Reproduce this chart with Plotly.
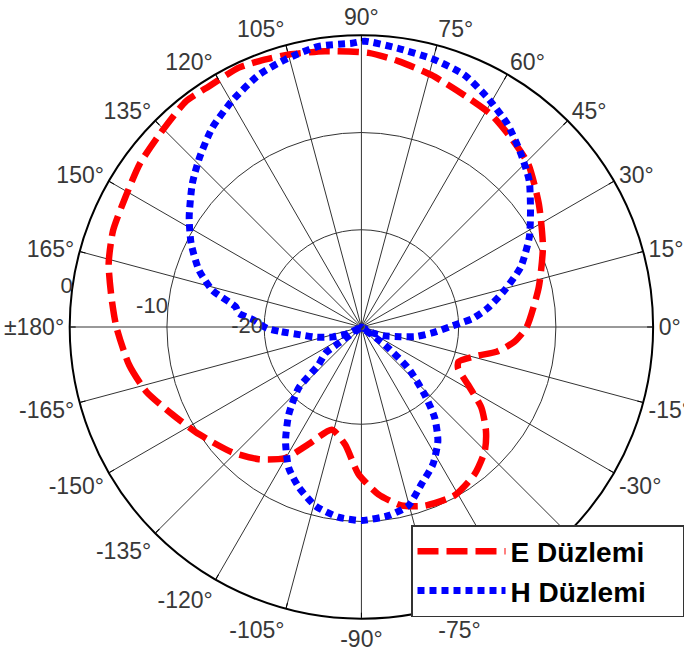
import plotly.graph_objects as go

# E-plane (Düzlemi) pattern, angle in degrees, gain in dB
e_theta = [-180, -170.7, -163.3, -155.1, -146.5, -135.8, -127.8, -120.2, -114.2, -106.1,
           -97.9, -91.2, -84.2, -77.4, -70.5, -61.1, -52.5, -45.2, -39.9, -34.0,
           -28.5, -23.1, -19.7, -14.6, -10.2, -5.5, 0, 12.7, 23.8, 34.7,
           44.4, 51.7, 58.6, 65.1, 74.5, 82.1, 88.5, 97.5, 104.9, 111.0,
           115.3, 122.3, 127.8, 136.3, 143.7, 151.3, 158.8, 165.9, 173.1, 180]
e_db = [-4.8, -5.8, -6.9, -8.6, -10.0, -11.5, -12.8, -14.4, -16.8, -19.0,
        -17.8, -14.9, -12.7, -11.2, -10.5, -10.2, -10.9, -12.0, -13.3, -15.1,
        -17.5, -19.2, -19.4, -18.0, -15.8, -14.2, -13.0, -11.3, -9.6, -7.8,
        -6.0, -5.2, -4.4, -4.0, -3.1, -2.4, -1.8, -1.4, -1.0, -0.7,
        -0.5, -0.7, -0.6, -1.3, -1.7, -2.3, -2.6, -3.2, -4.1, -4.8]

# H-plane pattern
h_theta = [-179.2, -176.6, -172.6, -167.0, -160.9, -154.0, -150.0, -144.7, -144.0, -138.5,
           -135.8, -129.7, -123.6, -117.3, -111.3, -104.4, -96.9, -90.0, -81.9, -75.3,
           -69.1, -62.4, -56.1, -51.1, -46.9, -41.3, -37.2, -32.0, -27.8, -21.8,
           -14.0, -9.9, -4.5, 0.2, 2.1, 4.4, 8.4, 14.4, 20.6, 28.2,
           34.5, 41.1, 47.3, 54.2, 61.1, 67.8, 74.7, 82.5, 89.3, 91.9,
           98.7, 105.9, 112.1, 119.7, 126.8, 133.7, 139.7, 147.5, 153.9, 160.7,
           166.1, 170.9, 173.6, 176.3, 180.8]
h_db = [-20.3, -21.8, -23.7, -25.3, -26.9, -28.5, -30.0, -27.1, -25.4, -24.1,
        -21.0, -18.3, -15.9, -13.7, -12.3, -11.0, -10.3, -10.1, -10.4, -11.0,
        -12.7, -14.1, -15.9, -18.0, -20.5, -23.6, -27.0, -30.0, -28.6, -27.6,
        -25.9, -24.3, -22.6, -20.9, -19.9, -18.5, -16.9, -14.8, -12.5, -10.4,
        -8.9, -7.1, -5.8, -4.3, -3.1, -2.0, -1.5, -1.1, -0.6, -0.8,
        -0.8, -1.4, -2.0, -3.2, -4.4, -5.9, -7.2, -9.0, -10.5, -12.3,
        -14.2, -16.9, -17.3, -18.9, -20.3]

ang_ticks = list(range(0, 360, 15))
ang_labels = [f"{a}°" if a < 180 else ("±180°" if a == 180 else f"-{360 - a}°") for a in ang_ticks]
r_ticks = [-20, -10, 0]
r_labels = ["-20", "-10", "0"]
series_names = ["E Düzlemi", "H Düzlemi"]
pad = "\u00a0\u00a0\u00a0\u00a0"

fig = go.Figure()
fig.add_trace(go.Scatterpolar(
    r=e_db, theta=e_theta, mode="lines", name=series_names[0] + pad,
    line=dict(color="#ff0000", width=6.5, dash="21px,8px", shape="spline", smoothing=0.6)))
fig.add_trace(go.Scatterpolar(
    r=h_db, theta=h_theta, mode="lines", name=series_names[1] + pad,
    line=dict(color="#0000ff", width=7, dash="7px,5px", shape="spline", smoothing=0.6)))

W, H = 684, 661
cx, cy, R = 363, 327, 293
fig.update_layout(
    width=W, height=H,
    margin=dict(l=0, r=0, t=0, b=0),
    paper_bgcolor="white",
    font=dict(family="Liberation Sans, Arial, sans-serif", color="#383838"),
    polar=dict(
        domain=dict(x=[(cx - R) / W, (cx + R) / W], y=[1 - (cy + R) / H, 1 - (cy - R) / H]),
        bgcolor="white",
        angularaxis=dict(
            direction="counterclockwise", rotation=0,
            tickmode="array", tickvals=ang_ticks, ticktext=ang_labels,
            showgrid=True, gridcolor="#333333", gridwidth=1,
            showline=True, linecolor="black", linewidth=2,
            ticks="inside", ticklen=5, tickcolor="black",
            tickfont=dict(size=23, color="#383838"),
        ),
        radialaxis=dict(
            range=[-30, 0], tickmode="array", tickvals=r_ticks, ticktext=r_labels,
            angle=168, side="counterclockwise", tickangle=168, showline=False, ticks="",
            showgrid=True, gridcolor="#333333", gridwidth=1,
            tickfont=dict(size=22, color="#383838"),
        ),
    ),
    legend=dict(
        x=413 / W, y=1 - 525 / H, xanchor="left", yanchor="top",
        bgcolor="white", bordercolor="#333333", borderwidth=1.5,
        font=dict(size=28, color="black", family="Liberation Sans, Arial, sans-serif", weight="bold"),
        itemwidth=88, tracegroupgap=0,
    ),
    showlegend=True,
)

fig.write_html("out.html", config={"displayModeBar": False},
               post_script="document.body.style.margin='0';document.body.style.overflow='hidden';")
